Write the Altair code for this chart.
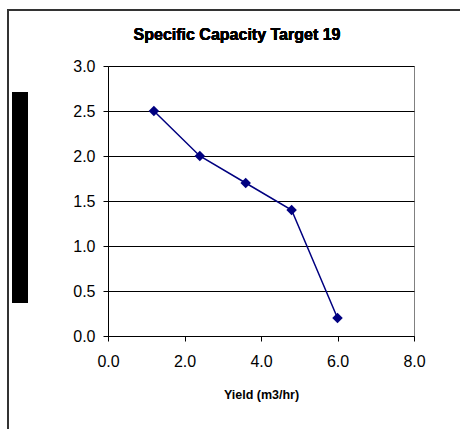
import altair as alt
import pandas as pd

yield_m3hr = [1.2, 2.4, 3.6, 4.8, 6.0]
spec_capacity = [2.5, 2.0, 1.7, 1.4, 0.2]
x_ticks = [0, 2, 4, 6, 8]
y_ticks = [0, 0.25, 0.5, 0.75, 1.0, 1.25, 1.5, 1.75, 2.0, 2.25, 2.5, 2.75, 3.0]

df = pd.DataFrame({"x": yield_m3hr, "y": spec_capacity})

FONT = "Liberation Sans"
W, H = 306, 270

major = "abs(datum.value*2 - round(datum.value*2)) < 0.001"

xenc = alt.X(
    "x:Q",
    scale=alt.Scale(domain=[0, 8], nice=False),
    axis=alt.Axis(
        values=x_ticks, format=".1f", title="Yield (m3/hr)",
        grid=False, tickSize=5, tickColor="#000", domainColor="#000",
        labelFontSize=16, labelFont=FONT, labelColor="#000", labelPadding=12,
        labelFlush=False,
        titleFontSize=12.5, titleFont=FONT, titleFontWeight="bold", titleColor="#000",
        titlePadding=19,
    ),
)
yenc = alt.Y(
    "y:Q",
    scale=alt.Scale(domain=[0, 3], nice=False),
    axis=alt.Axis(
        values=y_ticks, title=None,
        labelExpr=f"({major}) ? format(datum.value, '.1f') : ''",
        grid=True, gridColor="#000", gridWidth=1,
        gridOpacity={"condition": {"test": major, "value": 1}, "value": 0},
        tickSize={"condition": {"test": major, "value": 5}, "value": 3},
        tickColor="#000", domainColor="#000",
        labelFontSize=16, labelFont=FONT, labelColor="#000", labelPadding=8,
        labelFlush=False,
    ),
)

line = alt.Chart(df).mark_line(color="#000080", strokeWidth=1.5).encode(x=xenc, y=yenc)
pts = alt.Chart(df).mark_point(
    shape="diamond", filled=True, color="#000080", size=110, opacity=1
).encode(x="x:Q", y="y:Q")

# black block (obscured y-axis title) and outer chart frame
block = alt.Chart(df).mark_rect(color="#000").encode(
    x=alt.value(-96), x2=alt.value(-80), y=alt.value(26), y2=alt.value(237)
)
frame = alt.Chart(df).mark_rect(fill=None, stroke="#333", strokeWidth=2).encode(
    x=alt.value(-100), x2=alt.value(460), y=alt.value(-56), y2=alt.value(420)
)
title = alt.Chart(df).mark_text(
    text="Specific Capacity Target 19", font=FONT, fontSize=16, fontWeight="bold",
    color="#000", align="center", baseline="alphabetic"
).encode(x=alt.value(W / 2 - 24), y=alt.value(-26))

chart = (
    alt.layer(frame, line, pts, block, title)
    .properties(width=W, height=H, padding={"left": 108, "top": 66, "right": 46, "bottom": 93},
                autosize=alt.AutoSizeParams(type="none"), background="white")
    .configure_view(stroke="#808080", strokeWidth=1)
)

chart.save("out.html", embed_options={"renderer": "svg", "actions": False})
